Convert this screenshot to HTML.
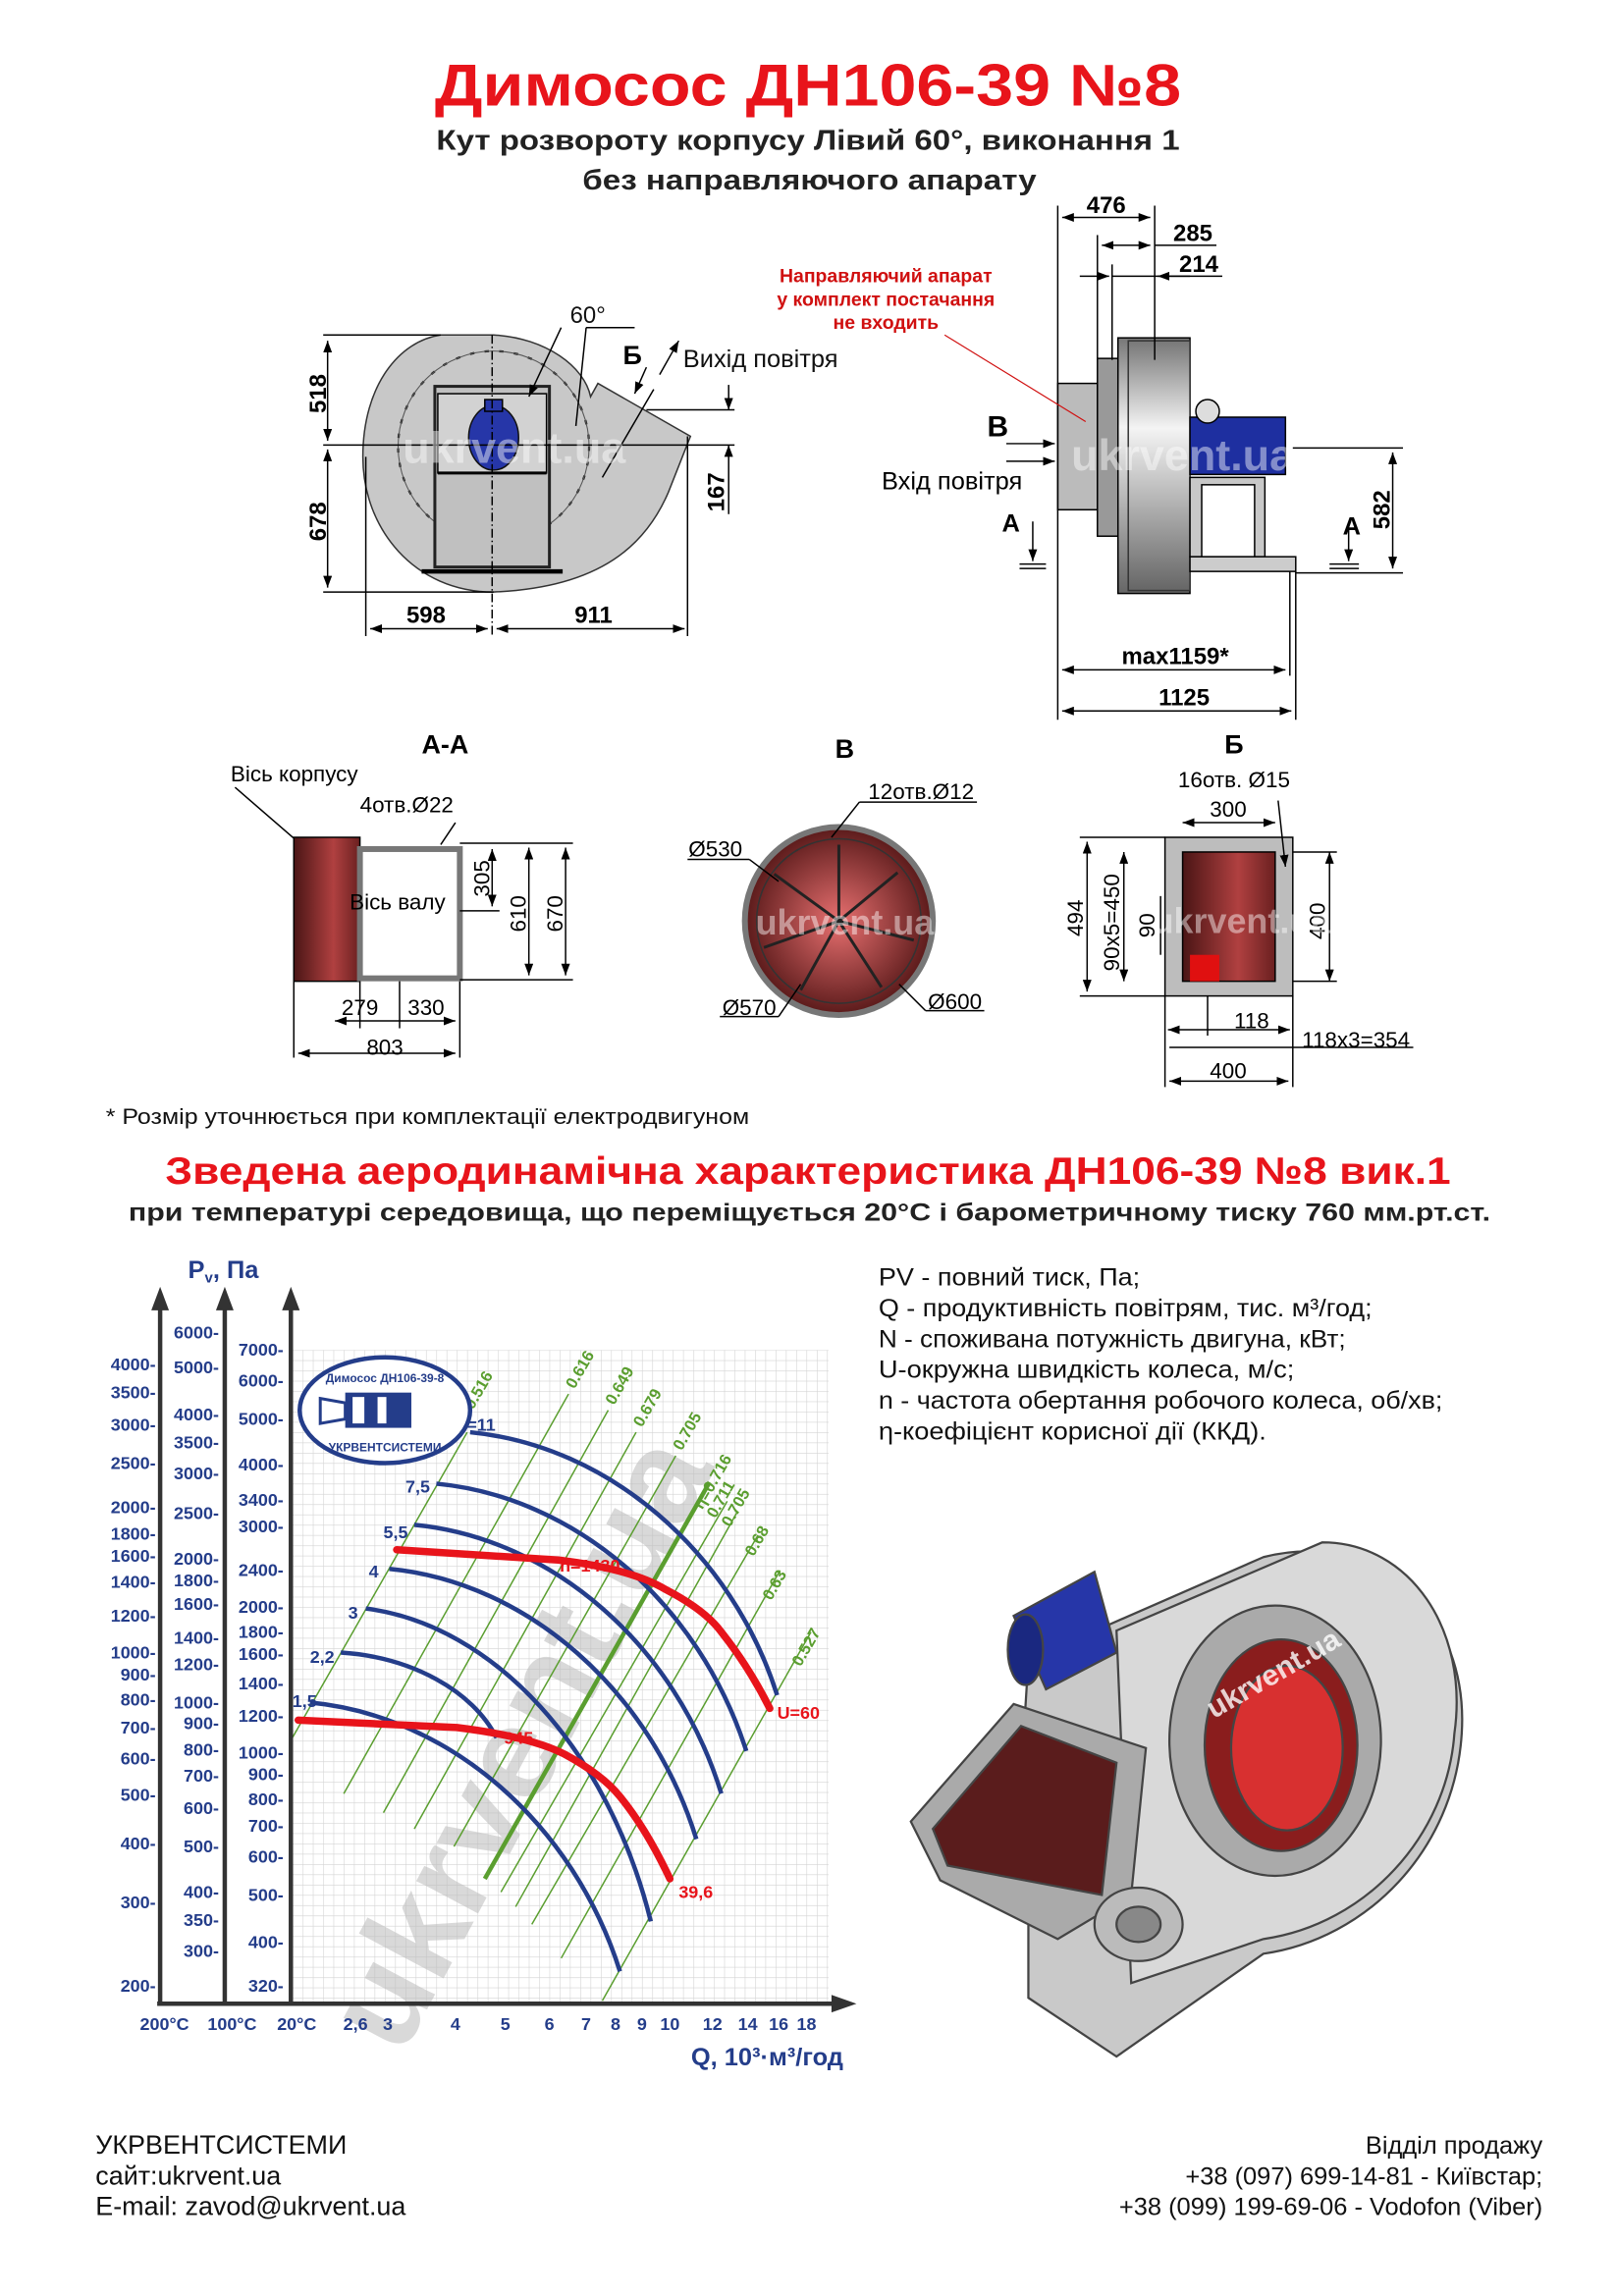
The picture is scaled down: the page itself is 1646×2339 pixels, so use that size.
<!DOCTYPE html>
<html><head><meta charset="utf-8"><style>
html,body{margin:0;padding:0;background:#fff}
svg{display:block}
text{font-family:"Liberation Sans",sans-serif}
</style></head><body>
<svg width="1646" height="2339" viewBox="0 0 1100 1563" preserveAspectRatio="none" xmlns="http://www.w3.org/2000/svg">
<defs>
<pattern id="grid" x="199" y="919" width="7" height="7" patternUnits="userSpaceOnUse">
<path d="M0 0H7M0 0V7" stroke="#d4d4d4" stroke-width="0.8" fill="none"/>
</pattern>
<linearGradient id="drum" x1="0" y1="0" x2="0" y2="1"><stop offset="0" stop-color="#777"/><stop offset="0.35" stop-color="#f4f4f4"/><stop offset="1" stop-color="#666"/></linearGradient>
<radialGradient id="redc"><stop offset="0" stop-color="#e87070"/><stop offset="1" stop-color="#5a1a1a"/></radialGradient>
<linearGradient id="boxr" x1="0" y1="0" x2="1" y2="0"><stop offset="0" stop-color="#4a1515"/><stop offset="0.6" stop-color="#b04040"/><stop offset="1" stop-color="#6a2020"/></linearGradient>
<marker id="ar" markerWidth="8" markerHeight="6" refX="8" refY="3" orient="auto" markerUnits="userSpaceOnUse"><path d="M0 0L8 3L0 6z" fill="#000"/></marker>
<marker id="al" markerWidth="8" markerHeight="6" refX="0" refY="3" orient="auto" markerUnits="userSpaceOnUse"><path d="M8 0L0 3L8 6z" fill="#000"/></marker>
</defs>

<text x="550" y="72" text-anchor="middle" font-size="40" font-weight="bold" fill="#e8141b" textLength="508" lengthAdjust="spacingAndGlyphs">Димосос  ДН106-39 №8</text>
<text x="550" y="102" text-anchor="middle" font-size="19" font-weight="bold" fill="#222" textLength="506" lengthAdjust="spacingAndGlyphs">Кут розвороту корпусу Лівий 60°, виконання 1</text>
<text x="551" y="129" text-anchor="middle" font-size="19" font-weight="bold" fill="#222" textLength="309" lengthAdjust="spacingAndGlyphs">без направляючого апарату</text>

<g stroke="#000" stroke-width="1" fill="none">
<path d="M300,228 L336,228 C372,230 398,250 402,270 L407,261 L470,297 L455,335 C440,370 410,400 336,403 C282,403 247,360 247,311 C247,262 272,232 300,228 Z" fill="#c8c8c8" stroke="#333"/>
<circle cx="336" cy="304" r="65" stroke="#222" stroke-dasharray="3 7" stroke-width="1.5"/>
<circle cx="336" cy="304" r="65" stroke="#555" stroke-width="0.7"/>
<rect x="296" y="263" width="78" height="123" fill="#c0c0c0" stroke="#222" stroke-width="2"/>
<rect x="298" y="268" width="74" height="54" fill="#d2d2d2"/>
<line x1="298" y1="322" x2="372" y2="322" stroke-width="2"/>
<line x1="287" y1="389" x2="383" y2="389" stroke-width="3"/>
<ellipse cx="336" cy="298" rx="17" ry="22" fill="#2636a8" stroke="#111"/>
<rect x="330" y="272" width="12" height="8" fill="#2636a8"/>
<line x1="220" y1="228" x2="300" y2="228"/><line x1="220" y1="303" x2="500" y2="303"/><line x1="220" y1="403" x2="336" y2="403"/>
<line x1="223" y1="232" x2="223" y2="300" marker-start="url(#al)" marker-end="url(#ar)"/>
<line x1="223" y1="306" x2="223" y2="400" marker-start="url(#al)" marker-end="url(#ar)"/>
<line x1="249" y1="311" x2="249" y2="433"/><line x1="335" y1="228" x2="335" y2="433" stroke-dasharray="6 2 1 2"/><line x1="468" y1="297" x2="468" y2="433"/>
<line x1="252" y1="428" x2="332" y2="428" marker-start="url(#al)" marker-end="url(#ar)"/>
<line x1="338" y1="428" x2="466" y2="428" marker-start="url(#al)" marker-end="url(#ar)"/>
<line x1="440" y1="279" x2="500" y2="279"/>
<line x1="496" y1="262" x2="496" y2="279" marker-end="url(#ar)"/><line x1="496" y1="350" x2="496" y2="303" marker-end="url(#ar)"/>
<line x1="399" y1="223" x2="432" y2="223"/><line x1="399" y1="223" x2="392" y2="290"/><line x1="382" y1="223" x2="360" y2="270" marker-end="url(#ar)"/>
<line x1="440" y1="250" x2="432" y2="268" marker-end="url(#ar)"/><line x1="449" y1="255" x2="462" y2="232" marker-end="url(#ar)"/>
<line x1="445" y1="265" x2="410" y2="325"/>
</g>
<text x="388" y="220" font-size="16" fill="#111">60°</text>
<text x="424" y="248" font-size="18" font-weight="bold">Б</text>
<text x="465" y="250" font-size="17" fill="#111">Вихід повітря</text>
<text transform="translate(222,268) rotate(-90)" text-anchor="middle" font-size="16" font-weight="bold">518</text>
<text transform="translate(222,355) rotate(-90)" text-anchor="middle" font-size="16" font-weight="bold">678</text>
<text transform="translate(493,335) rotate(-90)" text-anchor="middle" font-size="16" font-weight="bold">167</text>
<text x="290" y="424" text-anchor="middle" font-size="16" font-weight="bold">598</text>
<text x="404" y="424" text-anchor="middle" font-size="16" font-weight="bold">911</text>
<text x="350" y="315" text-anchor="middle" font-size="30" font-weight="bold" fill="#fff" opacity="0.45">ukrvent.ua</text>

<g stroke="#000" stroke-width="1" fill="none">
<rect x="720" y="261" width="27" height="86" fill="#bbb"/>
<rect x="747" y="244" width="14" height="121" fill="#999"/>
<rect x="761" y="230" width="49" height="174" fill="url(#drum)"/>
<rect x="768" y="232" width="42" height="170" fill="url(#drum)" stroke="#333"/>
<rect x="810" y="284" width="65" height="39" fill="#1e2fa0"/>
<circle cx="822" cy="280" r="8" fill="#ddd"/>
<rect x="810" y="325" width="51" height="54" fill="#c8c8c8"/><rect x="818" y="330" width="36" height="49" fill="#fff"/>
<rect x="810" y="379" width="72" height="10" fill="#ccc"/>
<line x1="720" y1="140" x2="720" y2="490"/><line x1="747" y1="160" x2="747" y2="245"/><line x1="757" y1="180" x2="757" y2="245"/><line x1="786" y1="140" x2="786" y2="245"/>
<line x1="882" y1="389" x2="882" y2="490"/><line x1="878" y1="389" x2="878" y2="460"/>
<line x1="723" y1="148" x2="783" y2="148" marker-start="url(#al)" marker-end="url(#ar)"/>
<line x1="750" y1="167" x2="783" y2="167" marker-start="url(#al)" marker-end="url(#ar)"/><line x1="786" y1="167" x2="828" y2="167"/>
<line x1="735" y1="188" x2="755" y2="188" marker-end="url(#ar)"/><line x1="810" y1="188" x2="788" y2="188" marker-end="url(#ar)"/><line x1="757" y1="188" x2="832" y2="188"/>
<line x1="723" y1="456" x2="875" y2="456" marker-start="url(#al)" marker-end="url(#ar)"/>
<line x1="723" y1="484" x2="879" y2="484" marker-start="url(#al)" marker-end="url(#ar)"/>
<line x1="685" y1="302" x2="718" y2="302" marker-end="url(#ar)"/><line x1="685" y1="314" x2="718" y2="314" marker-end="url(#ar)"/>
<line x1="703" y1="355" x2="703" y2="382" marker-end="url(#ar)"/><line x1="694" y1="384" x2="712" y2="384"/><line x1="694" y1="387" x2="712" y2="387"/>
<line x1="918" y1="360" x2="918" y2="382" marker-end="url(#ar)"/><line x1="905" y1="384" x2="925" y2="384"/><line x1="905" y1="387" x2="925" y2="387"/>
<line x1="880" y1="305" x2="955" y2="305"/><line x1="882" y1="390" x2="955" y2="390"/>
<line x1="948" y1="308" x2="948" y2="387" marker-start="url(#al)" marker-end="url(#ar)"/>
<line x1="643" y1="228" x2="739" y2="287" stroke="#d01010" stroke-width="0.8"/>
</g>
<text x="753" y="145" text-anchor="middle" font-size="16" font-weight="bold">476</text>
<text x="812" y="164" text-anchor="middle" font-size="16" font-weight="bold">285</text>
<text x="816" y="185" text-anchor="middle" font-size="16" font-weight="bold">214</text>
<text x="800" y="452" text-anchor="middle" font-size="16" font-weight="bold">max1159*</text>
<text x="806" y="480" text-anchor="middle" font-size="16" font-weight="bold">1125</text>
<text x="672" y="297" font-size="20" font-weight="bold">В</text>
<text x="648" y="333" text-anchor="middle" font-size="17">Вхід повітря</text>
<text x="682" y="362" font-size="17" font-weight="bold">А</text>
<text x="914" y="364" font-size="17" font-weight="bold">А</text>
<text transform="translate(946,347) rotate(-90)" text-anchor="middle" font-size="16" font-weight="bold">582</text>
<g font-size="13" font-weight="bold" fill="#d01010" text-anchor="middle">
<text x="603" y="192">Направляючий апарат</text><text x="603" y="208">у комплект постачання</text><text x="603" y="224">не входить</text></g>
<text x="805" y="320" text-anchor="middle" font-size="30" font-weight="bold" fill="#fff" opacity="0.45">ukrvent.ua</text>

<text x="303" y="513" text-anchor="middle" font-size="18" font-weight="bold">А-А</text>
<text x="157" y="532" font-size="15">Вісь корпусу</text>
<text x="245" y="553" font-size="15">4отв.Ø22</text>
<g stroke="#000" stroke-width="1" fill="none">
<line x1="160" y1="536" x2="205" y2="575"/>
<rect x="200" y="570" width="45" height="98" fill="url(#boxr)"/>
<rect x="245" y="578" width="68" height="88" fill="#fff" stroke="#777" stroke-width="4"/>
<line x1="313" y1="574" x2="390" y2="574"/><line x1="313" y1="667" x2="390" y2="667"/><line x1="313" y1="620" x2="340" y2="620"/>
<line x1="310" y1="560" x2="300" y2="575"/>
<line x1="335" y1="578" x2="335" y2="617" marker-start="url(#al)" marker-end="url(#ar)"/>
<line x1="360" y1="577" x2="360" y2="664" marker-start="url(#al)" marker-end="url(#ar)"/>
<line x1="385" y1="577" x2="385" y2="664" marker-start="url(#al)" marker-end="url(#ar)"/>
<line x1="200" y1="668" x2="200" y2="720"/><line x1="245" y1="668" x2="245" y2="700"/><line x1="313" y1="668" x2="313" y2="720"/><line x1="272" y1="668" x2="272" y2="700"/>
<line x1="228" y1="695" x2="310" y2="695" marker-start="url(#al)" marker-end="url(#ar)"/>
<line x1="203" y1="717" x2="310" y2="717" marker-start="url(#al)" marker-end="url(#ar)"/>
</g>
<text transform="translate(333,598) rotate(-90)" text-anchor="middle" font-size="15">305</text>
<text transform="translate(358,622) rotate(-90)" text-anchor="middle" font-size="15">610</text>
<text transform="translate(383,622) rotate(-90)" text-anchor="middle" font-size="15">670</text>
<text x="238" y="619" font-size="15">Вісь валу</text>
<text x="245" y="691" text-anchor="middle" font-size="15">279</text><text x="290" y="691" text-anchor="middle" font-size="15">330</text>
<text x="262" y="718" text-anchor="middle" font-size="15">803</text>

<text x="575" y="516" text-anchor="middle" font-size="18" font-weight="bold">В</text>
<circle cx="571" cy="627" r="64" fill="url(#redc)" stroke="#777" stroke-width="4"/>
<circle cx="571" cy="627" r="56" fill="none" stroke="#333" stroke-width="1"/>
<g stroke="#222" stroke-width="2">
<line x1="571" y1="627" x2="571" y2="575"/><line x1="571" y1="627" x2="611" y2="594"/><line x1="571" y1="627" x2="622" y2="640"/><line x1="571" y1="627" x2="600" y2="672"/><line x1="571" y1="627" x2="545" y2="674"/><line x1="571" y1="627" x2="520" y2="645"/><line x1="571" y1="627" x2="527" y2="595"/></g>
<g stroke="#000" fill="none"><line x1="585" y1="546" x2="665" y2="546"/><line x1="585" y1="546" x2="566" y2="570"/><line x1="468" y1="585" x2="510" y2="585"/><line x1="510" y1="585" x2="530" y2="600"/><line x1="490" y1="692" x2="530" y2="692"/><line x1="530" y1="692" x2="545" y2="670"/><line x1="630" y1="688" x2="670" y2="688"/><line x1="630" y1="688" x2="612" y2="670"/></g>
<text x="627" y="544" text-anchor="middle" font-size="15">12отв.Ø12</text>
<text x="487" y="583" text-anchor="middle" font-size="15">Ø530</text>
<text x="510" y="691" text-anchor="middle" font-size="15">Ø570</text>
<text x="650" y="687" text-anchor="middle" font-size="15">Ø600</text>
<text x="575" y="636" text-anchor="middle" font-size="24" font-weight="bold" fill="#fff" opacity="0.45">ukrvent.ua</text>

<text x="840" y="513" text-anchor="middle" font-size="18" font-weight="bold">Б</text>
<text x="840" y="536" text-anchor="middle" font-size="15">16отв. Ø15</text>
<text x="836" y="556" text-anchor="middle" font-size="15">300</text>
<g stroke="#000" fill="none" stroke-width="1">
<rect x="793" y="570" width="87" height="108" fill="#bdbdbd"/>
<rect x="805" y="580" width="63" height="88" fill="url(#boxr)"/>
<rect x="810" y="650" width="20" height="18" fill="#e01010" stroke="none"/>
<line x1="805" y1="560" x2="868" y2="560" marker-start="url(#al)" marker-end="url(#ar)"/>
<line x1="735" y1="570" x2="793" y2="570"/><line x1="735" y1="678" x2="793" y2="678"/>
<line x1="740" y1="573" x2="740" y2="675" marker-start="url(#al)" marker-end="url(#ar)"/>
<line x1="765" y1="580" x2="765" y2="668" marker-start="url(#al)" marker-end="url(#ar)"/>
<line x1="790" y1="610" x2="790" y2="650"/>
<line x1="905" y1="580" x2="905" y2="668" marker-start="url(#al)" marker-end="url(#ar)"/><line x1="880" y1="580" x2="910" y2="580"/><line x1="880" y1="668" x2="910" y2="668"/>
<line x1="793" y1="678" x2="793" y2="740"/><line x1="880" y1="678" x2="880" y2="740"/><line x1="822" y1="678" x2="822" y2="705"/>
<line x1="795" y1="701" x2="878" y2="701" marker-start="url(#al)" marker-end="url(#ar)"/>
<line x1="796" y1="713" x2="962" y2="713"/>
<line x1="796" y1="736" x2="877" y2="736" marker-start="url(#al)" marker-end="url(#ar)"/>
<line x1="870" y1="545" x2="875" y2="590" marker-end="url(#ar)"/>
</g>
<text transform="translate(737,625) rotate(-90)" text-anchor="middle" font-size="15">494</text>
<text transform="translate(762,628) rotate(-90)" text-anchor="middle" font-size="15">90x5=450</text>
<text transform="translate(786,630) rotate(-90)" text-anchor="middle" font-size="15">90</text>
<text transform="translate(902,627) rotate(-90)" text-anchor="middle" font-size="15">400</text>
<text x="852" y="700" text-anchor="middle" font-size="15">118</text>
<text x="923" y="713" text-anchor="middle" font-size="15">118x3=354</text>
<text x="836" y="734" text-anchor="middle" font-size="15">400</text>
<text x="845" y="635" text-anchor="middle" font-size="24" font-weight="bold" fill="#fff" opacity="0.45">ukrvent.ua</text>

<text x="72" y="765" font-size="15" fill="#111" textLength="438" lengthAdjust="spacingAndGlyphs">* Розмір уточнюється при комплектації електродвигуном</text>
<text x="550" y="806" text-anchor="middle" font-size="26" font-weight="bold" fill="#e8141b" textLength="875" lengthAdjust="spacingAndGlyphs">Зведена аеродинамічна характеристика ДН106-39 №8 вик.1</text>
<text x="551" y="831" text-anchor="middle" font-size="17" font-weight="bold" fill="#222" textLength="927" lengthAdjust="spacingAndGlyphs">при температурі середовища, що переміщується 20°С і барометричному тиску 760 мм.рт.ст.</text>

<rect x="199" y="919" width="365" height="444" fill="url(#grid)"/>
<text transform="translate(380,1200) rotate(-62)" text-anchor="middle" font-size="90" font-weight="bold" fill="#bbb" opacity="0.55">ukrvent.ua</text>
<g stroke="#5a9e2f" stroke-width="1">
<line x1="199" y1="1183" x2="318" y2="975"/><line x1="234" y1="1221" x2="387" y2="949"/><line x1="261" y1="1234" x2="414" y2="960"/><line x1="282" y1="1245" x2="433" y2="975"/><line x1="309" y1="1257" x2="460" y2="991"/><line x1="330" y1="1279" x2="483" y2="1009" stroke-width="3"/><line x1="341" y1="1288" x2="495" y2="1022"/><line x1="351" y1="1298" x2="502" y2="1029"/><line x1="362" y1="1310" x2="516" y2="1045"/><line x1="382" y1="1333" x2="531" y2="1069"/><line x1="410" y1="1362" x2="552" y2="1111"/>
</g>
<g font-size="11" font-weight="bold" fill="#5a9e2f">
<text transform="translate(322,960) rotate(-60)">0.516</text>
<text transform="translate(391,946) rotate(-60)">0.616</text>
<text transform="translate(418,957) rotate(-60)">0.649</text>
<text transform="translate(437,972) rotate(-60)">0.679</text>
<text transform="translate(464,988) rotate(-60)">0.705</text>
<text transform="translate(478,1028) rotate(-60)">η=0.716</text>
<text transform="translate(487,1034) rotate(-60)">0.711</text>
<text transform="translate(497,1040) rotate(-60)">0.705</text>
<text transform="translate(513,1060) rotate(-60)">0.68</text>
<text transform="translate(525,1090) rotate(-60)">0.63</text>
<text transform="translate(545,1135) rotate(-60)">0.527</text>
</g>
<g stroke="#243d8a" stroke-width="3" fill="none">
<path d="M211,1159 C306,1168 390,1241 422,1342"/>
<path d="M232,1125 C280,1128 322,1151 338,1183"/>
<path d="M249,1095 C336,1106 414,1191 443,1308"/>
<path d="M265,1068 C359,1077 443,1151 474,1252"/>
<path d="M282,1038 C376,1047 460,1120 491,1221"/>
<path d="M297,1010 C392,1019 476,1092 508,1192"/>
<path d="M320,975 C414,984 498,1056 529,1154"/>
</g>
<g stroke="#e8141b" stroke-width="5" fill="none" stroke-linecap="round">
<path d="M270,1055 L380,1062 Q430,1068 453,1082 Q480,1096 491,1111 Q510,1135 524,1163"/>
<path d="M203,1171 L311,1176 Q360,1182 384,1194 Q410,1208 422,1223 Q440,1245 456,1279"/>
</g>
<g font-size="12" font-weight="bold" fill="#e8141b">
<text x="381" y="1070">n=1430</text><text x="529" y="1170">U=60</text><text x="343" y="1187">945</text><text x="462" y="1292">39,6</text></g>
<g font-size="12" font-weight="bold" fill="#243d8a">
<text x="309" y="974">N=11</text><text x="276" y="1016">7,5</text><text x="261" y="1047">5,5</text><text x="251" y="1074">4</text><text x="237" y="1102">3</text><text x="211" y="1132">2,2</text><text x="199" y="1162">1,5</text></g>
<ellipse cx="262" cy="960" rx="58" ry="36" fill="#fff" stroke="#243d8a" stroke-width="3"/>
<rect x="235" y="948" width="45" height="24" fill="#243d8a"/><rect x="240" y="951" width="8" height="18" fill="#fff"/><rect x="257" y="951" width="6" height="18" fill="#fff"/>
<path d="M218,952 L235,955 L235,966 L218,969 Z" fill="none" stroke="#243d8a" stroke-width="2"/>
<text x="262" y="941" text-anchor="middle" font-size="8" font-weight="bold" fill="#243d8a">Димосос ДН106-39-8</text>
<text x="262" y="988" text-anchor="middle" font-size="8" font-weight="bold" fill="#243d8a">УКРВЕНТСИСТЕМИ</text>
<g stroke="#333" stroke-width="3">
<line x1="109" y1="1365" x2="109" y2="890"/><line x1="153" y1="1365" x2="153" y2="890"/><line x1="198" y1="1365" x2="198" y2="890"/><line x1="107" y1="1364" x2="568" y2="1364"/></g>
<g fill="#333"><path d="M103,892 L109,876 L115,892Z"/><path d="M147,892 L153,876 L159,892Z"/><path d="M192,892 L198,876 L204,892Z"/><path d="M566,1358 L583,1364 L566,1370Z"/></g>
<text x="128" y="870" font-size="17" font-weight="bold" fill="#243d8a">P<tspan font-size="10" dy="3">v</tspan><tspan dy="-3">, Па</tspan></text>
<g font-size="12" font-weight="bold" fill="#243d8a" text-anchor="end">
<text x="193" y="923">7000-</text><text x="193" y="944">6000-</text><text x="193" y="970">5000-</text><text x="193" y="1001">4000-</text><text x="193" y="1025">3400-</text><text x="193" y="1043">3000-</text><text x="193" y="1073">2400-</text><text x="193" y="1098">2000-</text><text x="193" y="1115">1800-</text><text x="193" y="1130">1600-</text><text x="193" y="1150">1400-</text><text x="193" y="1172">1200-</text><text x="193" y="1197">1000-</text><text x="193" y="1212">900-</text><text x="193" y="1229">800-</text><text x="193" y="1247">700-</text><text x="193" y="1268">600-</text><text x="193" y="1294">500-</text><text x="193" y="1326">400-</text><text x="193" y="1356">320-</text>
<text x="149" y="911">6000-</text><text x="149" y="935">5000-</text><text x="149" y="967">4000-</text><text x="149" y="986">3500-</text><text x="149" y="1007">3000-</text><text x="149" y="1034">2500-</text><text x="149" y="1065">2000-</text><text x="149" y="1080">1800-</text><text x="149" y="1096">1600-</text><text x="149" y="1119">1400-</text><text x="149" y="1137">1200-</text><text x="149" y="1163">1000-</text><text x="149" y="1177">900-</text><text x="149" y="1195">800-</text><text x="149" y="1213">700-</text><text x="149" y="1235">600-</text><text x="149" y="1261">500-</text><text x="149" y="1292">400-</text><text x="149" y="1311">350-</text><text x="149" y="1332">300-</text>
<text x="106" y="933">4000-</text><text x="106" y="952">3500-</text><text x="106" y="974">3000-</text><text x="106" y="1000">2500-</text><text x="106" y="1030">2000-</text><text x="106" y="1048">1800-</text><text x="106" y="1063">1600-</text><text x="106" y="1081">1400-</text><text x="106" y="1104">1200-</text><text x="106" y="1129">1000-</text><text x="106" y="1144">900-</text><text x="106" y="1161">800-</text><text x="106" y="1180">700-</text><text x="106" y="1201">600-</text><text x="106" y="1226">500-</text><text x="106" y="1259">400-</text><text x="106" y="1299">300-</text><text x="106" y="1356">200-</text>
</g>
<g font-size="12" font-weight="bold" fill="#243d8a" text-anchor="middle">
<text x="112" y="1382">200°C</text><text x="158" y="1382">100°C</text><text x="202" y="1382">20°C</text><text x="242" y="1382">2,6</text><text x="264" y="1382">3</text><text x="310" y="1382">4</text><text x="344" y="1382">5</text><text x="374" y="1382">6</text><text x="399" y="1382">7</text><text x="419" y="1382">8</text><text x="437" y="1382">9</text><text x="456" y="1382">10</text><text x="485" y="1382">12</text><text x="509" y="1382">14</text><text x="530" y="1382">16</text><text x="549" y="1382">18</text></g>
<text x="574" y="1406" text-anchor="end" font-size="17" font-weight="bold" fill="#243d8a">Q, 10³·м³/год</text>

<g font-size="17" fill="#111" lengthAdjust="spacingAndGlyphs">
<text x="598" y="875" textLength="178" lengthAdjust="spacingAndGlyphs">PV - повний тиск, Па;</text>
<text x="598" y="896" textLength="336" lengthAdjust="spacingAndGlyphs">Q - продуктивність повітрям, тис. м³/год;</text>
<text x="598" y="917" textLength="318" lengthAdjust="spacingAndGlyphs">N - споживана потужність двигуна, кВт;</text>
<text x="598" y="938" textLength="283" lengthAdjust="spacingAndGlyphs">U-окружна швидкість колеса, м/с;</text>
<text x="598" y="959" textLength="384" lengthAdjust="spacingAndGlyphs">n - частота обертання робочого колеса, об/хв;</text>
<text x="598" y="980" textLength="264" lengthAdjust="spacingAndGlyphs">η-коефіцієнт корисної дії (ККД).</text>
</g>

<g stroke="#444" stroke-width="1.5">
<path d="M700,1130 L860,1060 C940,1040 1000,1100 995,1180 C990,1260 930,1320 860,1330 L760,1400 L700,1360 L700,1300 L690,1290 Z" fill="#c9c9c9"/>
<path d="M760,1110 L900,1050 C960,1050 1000,1110 990,1180 C985,1250 930,1310 860,1320 L770,1350 Z" fill="#d9d9d9"/>
<ellipse cx="868" cy="1185" rx="72" ry="92" fill="#aaa"/>
<ellipse cx="872" cy="1188" rx="52" ry="72" fill="#8a1d1d"/>
<ellipse cx="876" cy="1190" rx="38" ry="56" fill="#d83030"/>
<path d="M620,1240 L690,1160 L780,1190 L770,1290 L720,1320 L640,1280 Z" fill="#aaa"/>
<path d="M635,1245 L695,1175 L760,1200 L750,1290 L645,1270 Z" fill="#5a1c1c"/>
<ellipse cx="775" cy="1310" rx="30" ry="25" fill="#bbb"/>
<ellipse cx="775" cy="1310" rx="15" ry="12" fill="#888"/>
<path d="M690,1100 L745,1070 L760,1125 L712,1150 Z" fill="#2636a8"/>
<ellipse cx="698" cy="1123" rx="12" ry="24" fill="#1a2880"/>
</g>
<text transform="translate(870,1145) rotate(-30)" text-anchor="middle" font-size="20" font-weight="bold" fill="#fff" opacity="0.8">ukrvent.ua</text>

<g font-size="18" fill="#111">
<text x="65" y="1466">УКРВЕНТСИСТЕМИ</text>
<text x="65" y="1487">сайт:ukrvent.ua</text>
<text x="65" y="1508">E-mail: zavod@ukrvent.ua</text>
</g>
<g font-size="17" fill="#111">
<text x="1050" y="1466" text-anchor="end">Відділ продажу</text>
<text x="1050" y="1487" text-anchor="end">+38 (097) 699-14-81 - Київстар;</text>
<text x="1050" y="1508" text-anchor="end">+38 (099) 199-69-06 - Vodofon (Viber)</text>
</g>
</svg>
</body></html>
